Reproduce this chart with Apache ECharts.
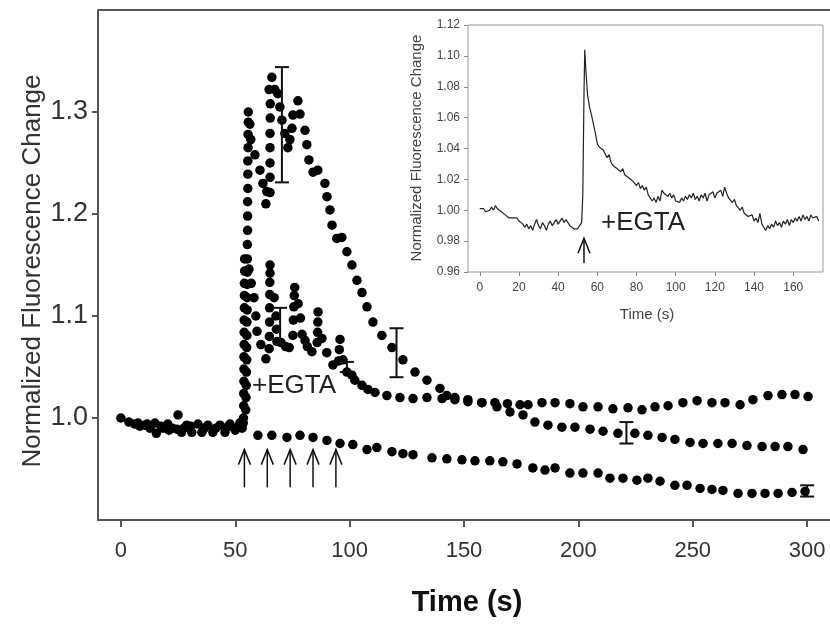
<!DOCTYPE html>
<html>
<head>
<meta charset="utf-8">
<script src="https://cdn.jsdelivr.net/npm/echarts@6/dist/echarts.min.js"></script>
<style>
html,body{margin:0;padding:0;background:#fff;}
#chart{width:830px;height:629px;}
</style>
</head>
<body>
<div id="chart"></div>
<script>
// ---------- Main chart data ----------
const xTicks = [0, 50, 100, 150, 200, 250, 300];
const yTicks = [1.0, 1.1, 1.2, 1.3];

// Trace A (large transient peaking ~1.33)
const seriesA_t = [0,6.1,10.5,14.9,20.5,25.0,28.8,33.7,38.0,43.3,47.7,52.0,
  54.6,54.7,54.8,54.9,55.0,55.0,55.1,55.1,55.2,55.2,55.2,55.3,55.3,55.3,55.4,55.4,55.4,55.5,55.5,55.5,55.6,55.6,55.7,55.7,
  56.4,56.8,58.6,60.8,62.1,63.8,63.4,
  65.2,65.2,65.2,65.2,65.2,65.3,65.3,64.8,66.0,
  67.3,68.6,69.5,70.4,71.7,73.0,73.9,74.8,75.2,77.4,78.3,80.5,81.3,82.2,84.0,86.1,89.2,90.1,91.4,92.3,94.4,96.6,98.8,101.0,103.2,105.4,107.6,110.2,114.1,118.5,123.3,128.6,133.8,139.5,142.5,
  146.0,151.7,157.8,164.4,170.1,175.8,181.0,186.7,192.8,198.5,205.1,210.8,217.3,224.7,230.4,236.6,242.2,248.8,254.5,261.0,267.2,273.7,280.3,286.0,291.6,298.2];
const seriesA_v = [1.000,0.994,0.993,0.995,0.994,1.003,0.993,0.994,0.993,0.993,0.994,0.995,
  1.008,1.020,1.032,1.045,1.057,1.069,1.081,1.094,1.106,1.118,1.131,1.143,1.156,1.170,1.184,1.198,1.212,1.225,1.239,1.252,1.265,1.278,1.290,1.300,
  1.288,1.273,1.258,1.243,1.230,1.222,1.210,
  1.221,1.236,1.250,1.265,1.279,1.294,1.308,1.322,1.334,
  1.322,1.318,1.305,1.292,1.279,1.265,1.273,1.284,1.297,1.311,1.298,1.282,1.268,1.253,1.241,1.243,1.230,1.217,1.204,1.189,1.176,1.177,1.163,1.150,1.135,1.123,1.109,1.094,1.081,1.069,1.057,1.045,1.037,1.029,1.022,
  1.020,1.016,1.015,1.011,1.006,1.003,0.996,0.993,0.991,0.991,0.989,0.987,0.985,0.985,0.983,0.981,0.979,0.976,0.975,0.975,0.975,0.973,0.972,0.972,0.972,0.969];

// Trace B (repeated smaller transients)
const seriesB_t = [8.3,12.7,15.5,18.4,21.0,24.5,26.5,31.0,35.4,40.2,45.5,50.0,53.0,
  53.6,53.7,53.7,53.8,53.8,53.8,53.9,53.9,53.9,54.0,54.0,54.0,54.1,54.1,
  56.0,57.0,58.2,59.0,59.5,61.2,63.4,
  64.8,64.9,65.0,65.0,65.1,65.1,65.2,65.2,
  67.0,67.8,68.0,68.2,70.0,72.0,73.6,
  75.2,75.4,75.6,75.8,76.0,
  77.5,78.5,79.2,80.5,81.5,83.5,
  85.8,86.0,86.1,86.2,
  87.9,90.0,92.7,
  95.2,95.5,95.8,
  97.1,98.8,101.0,102.3,105.4,108.0,111.1,116.3,122.0,127.7,133.8,140.4,146.0,151.7,157.8,163.5,169.0,174.5,
  178.0,184.1,189.8,196.3,202.0,208.6,215.1,221.7,227.8,233.5,239.2,245.7,251.9,258.4,264.1,270.7,276.3,282.9,289.0,294.7,300.4];
const seriesB_v = [0.992,0.990,0.985,0.990,0.988,0.989,0.986,0.986,0.986,0.986,0.986,0.988,0.990,
  1.000,1.012,1.024,1.036,1.048,1.060,1.072,1.084,1.096,1.108,1.120,1.132,1.144,1.156,
  1.146,1.132,1.118,1.100,1.085,1.072,1.058,
  1.068,1.080,1.094,1.108,1.121,1.133,1.142,1.150,
  1.118,1.100,1.087,1.075,1.074,1.070,1.069,
  1.081,1.096,1.109,1.120,1.128,
  1.112,1.098,1.082,1.076,1.070,1.065,
  1.074,1.084,1.094,1.104,
  1.078,1.064,1.052,
  1.056,1.067,1.077,
  1.057,1.045,1.042,1.037,1.032,1.028,1.025,1.022,1.020,1.019,1.020,1.019,1.018,1.018,1.015,1.015,1.014,1.013,
  1.013,1.015,1.015,1.014,1.011,1.011,1.009,1.010,1.008,1.011,1.012,1.015,1.017,1.015,1.015,1.013,1.018,1.022,1.023,1.023,1.021];

// Trace C (no transient, slow decline)
const seriesC_t = [3.5,7.5,11.5,17.5,22.5,27.5,30.5,36.5,41.5,46.5,50.5,53.5,
  59.9,66.0,72.6,78.3,84.0,90.1,95.8,101.4,107.6,111.9,118.5,123.3,127.7,136.0,142.5,149.1,154.8,161.3,167.0,173.2,180.1,185.4,189.8,196.3,202.0,208.6,213.8,219.5,225.6,230.4,235.7,242.2,247.5,253.2,258.4,263.2,269.8,275.9,281.6,287.3,293.4,299.1];
const seriesC_v = [0.996,0.995,0.994,0.992,0.990,0.990,0.992,0.990,0.990,0.991,0.990,0.995,
  0.983,0.983,0.981,0.983,0.981,0.978,0.975,0.974,0.969,0.971,0.967,0.965,0.964,0.961,0.960,0.959,0.958,0.958,0.957,0.955,0.951,0.949,0.951,0.946,0.946,0.946,0.941,0.941,0.939,0.941,0.938,0.934,0.934,0.931,0.930,0.929,0.926,0.926,0.926,0.926,0.927,0.928];

// Error bars
const errT  = [70.4, 69.6, 98.8, 120.5, 221.0, 300.0];
const errLo = [1.231, 1.073, 1.045, 1.040, 0.975, 0.923];
const errHi = [1.344, 1.108, 1.055, 1.088, 0.996, 0.934];

// EGTA addition arrows (time, base value, tip value)
const arrowT = [54, 64, 74, 84, 94];
const arrowBase = 0.932;
const arrowTip = 0.969;

// ---------- Inset data ----------
const insetXTicks = [0, 20, 40, 60, 80, 100, 120, 140, 160];
const insetYTicks = [0.96, 0.98, 1.00, 1.02, 1.04, 1.06, 1.08, 1.10, 1.12];
const insetT = [0,1,2,3,4,5,6,7,8,9,10,11,12,13,14,15,16,17,18,19,20,21,22,23,24,25,26,27,28,29,30,31,32,33,34,35,36,37,38,39,40,41,42,43,44,45,46,47,48,49,50,51,52,
  52.6,53.2,53.6,54.2,55,56,57,58,59,60,61,62,63,64,65,66,67,68,69,70,71,72,73,74,75,76,77,78,79,80,81,82,83,84,85,86,87,88,89,90,91,92,93,94,95,96,97,98,99,100,
  101,102,103,104,105,106,107,108,109,110,111,112,113,114,115,116,117,118,119,120,121,122,123,124,125,126,127,128,129,130,131,132,133,134,135,136,137,138,139,140,
  141,142,143,144,145,146,147,148,149,150,151,152,153,154,155,156,157,158,159,160,161,162,163,164,165,166,167,168,169,170,171,172,173];
const insetV = [1.001,1.000,1.001,0.999,1.000,1.000,1.002,1.000,1.003,1.001,1.000,0.999,0.998,0.997,0.998,0.995,0.996,0.995,0.994,0.995,0.993,0.993,0.991,0.989,0.991,0.988,0.990,0.987,0.991,0.994,0.990,0.988,0.992,0.990,0.987,0.991,0.993,0.990,0.992,0.994,0.991,0.993,0.995,0.992,0.994,0.993,0.990,0.991,0.988,0.989,0.988,0.990,0.992,
  1.010,1.075,1.104,1.090,1.075,1.067,1.062,1.056,1.050,1.043,1.041,1.040,1.039,1.038,1.034,1.036,1.031,1.029,1.030,1.027,1.028,1.025,1.027,1.023,1.024,1.021,1.022,1.019,1.020,1.016,1.018,1.014,1.016,1.013,1.015,1.010,1.009,1.006,1.008,1.005,1.009,1.006,1.013,1.011,1.012,1.009,1.011,1.008,1.010,1.006,
  1.007,1.005,1.008,1.006,1.009,1.007,1.010,1.008,1.011,1.007,1.009,1.006,1.010,1.008,1.011,1.006,1.010,1.009,1.012,1.008,1.011,1.010,1.013,1.009,1.015,1.011,1.008,1.009,1.005,1.007,1.003,1.004,1.000,1.002,0.998,0.999,0.996,0.995,0.997,0.993,
  0.995,0.992,0.998,0.991,0.989,0.987,0.990,0.988,0.991,0.989,0.993,0.990,0.992,0.989,0.993,0.991,0.994,0.990,0.994,0.992,0.995,0.993,0.996,0.993,0.997,0.994,0.996,0.993,0.997,0.995,0.994,0.996,0.993];
const insetArrowT = 53.2;
const insetArrowBase = 0.9658;
const insetArrowTip = 0.9819;

// ---------- Build chart ----------
const FONT = "'Liberation Sans', Arial, Helvetica, sans-serif";
const zip = (a, b) => a.map((t, i) => [t, b[i]]);
const dotStyle = {color: '#000', opacity: 1};

const chart = echarts.init(document.getElementById('chart'), null, {renderer: 'canvas'});

function errRender(params, api) {
  const x = api.value(0), lo = api.value(1), hi = api.value(2);
  const a = api.coord([x, lo]), b = api.coord([x, hi]);
  const w = 7;
  const st = {stroke: '#111', lineWidth: 2};
  return {type: 'group', children: [
    {type: 'line', shape: {x1: a[0], y1: a[1], x2: b[0], y2: b[1]}, style: st},
    {type: 'line', shape: {x1: a[0] - w, y1: a[1], x2: a[0] + w, y2: a[1]}, style: st},
    {type: 'line', shape: {x1: b[0] - w, y1: b[1], x2: b[0] + w, y2: b[1]}, style: st}
  ]};
}
function arrowRender(params, api) {
  const x = api.value(0), lo = api.value(1), hi = api.value(2);
  const a = api.coord([x, lo]), b = api.coord([x, hi]);
  const hw = 6, hh = 15;
  const st = {stroke: '#111', lineWidth: 1.5, fill: null};
  return {type: 'group', children: [
    {type: 'line', shape: {x1: a[0], y1: a[1], x2: b[0], y2: b[1]}, style: st},
    {type: 'polyline', shape: {points: [[b[0] - hw, b[1] + hh], [b[0], b[1]], [b[0] + hw, b[1] + hh]]}, style: st}
  ]};
}

const axisLineMain = {show: true, onZero: false, lineStyle: {color: '#555', width: 2}};
const scatterBase = {type: 'scatter', xAxisIndex: 0, yAxisIndex: 0, symbol: 'circle', symbolSize: 9.5,
  itemStyle: dotStyle, emphasis: {disabled: true}};

const option = {
  animation: false,
  backgroundColor: '#fff',
  grid: [
    {left: 98, top: 10, right: 0, bottom: 109, show: false},
    {left: 468, top: 25, width: 355, height: 247, show: true, borderColor: '#999', borderWidth: 1, backgroundColor: '#fff', z: 5}
  ],
  xAxis: [
    {gridIndex: 0, type: 'value', min: -10, max: 310, position: 'bottom',
      axisLine: axisLineMain,
      axisTick: {show: true, customValues: xTicks, length: 7, inside: false, lineStyle: {color: '#555', width: 2}},
      axisLabel: {customValues: xTicks, fontSize: 22, margin: 20, color: '#333', fontFamily: FONT},
      splitLine: {show: false}},
    {gridIndex: 0, type: 'value', min: -10, max: 310, position: 'top',
      axisLine: axisLineMain, axisTick: {show: false}, axisLabel: {show: false}, splitLine: {show: false}},
    {gridIndex: 1, type: 'value', min: -6, max: 175.2, position: 'bottom', z: 6,
      axisLine: {show: false, onZero: false},
      axisTick: {show: true, customValues: insetXTicks, length: 4, lineStyle: {color: '#888', width: 1}},
      axisLabel: {customValues: insetXTicks, fontSize: 12, margin: 10, color: '#444', fontFamily: FONT},
      splitLine: {show: false}}
  ],
  yAxis: [
    {gridIndex: 0, type: 'value', min: 0.9, max: 1.4,
      axisLine: axisLineMain,
      axisTick: {show: true, customValues: yTicks, length: 6, lineStyle: {color: '#555', width: 2}},
      axisLabel: {customValues: yTicks, fontSize: 27, margin: 10, color: '#333', fontFamily: FONT,
        formatter: v => Number(v).toFixed(1)},
      splitLine: {show: false}},
    {gridIndex: 1, type: 'value', min: 0.96, max: 1.12, z: 6,
      axisLine: {show: false, onZero: false},
      axisTick: {show: true, customValues: insetYTicks, length: 4, lineStyle: {color: '#888', width: 1}},
      axisLabel: {customValues: insetYTicks, fontSize: 12, margin: 8, color: '#444', fontFamily: FONT,
        formatter: v => Number(v).toFixed(2)},
      splitLine: {show: false}}
  ],
  series: [
    Object.assign({name: 'A', data: zip(seriesA_t, seriesA_v)}, scatterBase),
    Object.assign({name: 'B', data: zip(seriesB_t, seriesB_v)}, scatterBase),
    Object.assign({name: 'C', data: zip(seriesC_t, seriesC_v)}, scatterBase),
    {name: 'err', type: 'custom', xAxisIndex: 0, yAxisIndex: 0, renderItem: errRender,
      encode: {x: 0, y: [1, 2]}, data: errT.map((t, i) => [t, errLo[i], errHi[i]]), z: 4},
    {name: 'arrows', type: 'custom', xAxisIndex: 0, yAxisIndex: 0, renderItem: arrowRender,
      encode: {x: 0, y: [1, 2]}, data: arrowT.map(t => [t, arrowBase, arrowTip])},
    {name: 'inset', type: 'line', xAxisIndex: 2, yAxisIndex: 1, showSymbol: false, symbol: 'none',
      lineStyle: {color: '#222', width: 1.2}, data: zip(insetT, insetV), z: 7},
    {name: 'insetArrow', type: 'custom', xAxisIndex: 2, yAxisIndex: 1, renderItem: arrowRender, z: 7,
      encode: {x: 0, y: [1, 2]}, data: [[insetArrowT, insetArrowBase, insetArrowTip]]}
  ],
  graphic: [
    {type: 'text', x: 33, y: 271, rotation: Math.PI / 2, z: 10,
      style: {text: 'Normalized Fluorescence Change', fontSize: 26, fontFamily: FONT, fill: '#333',
        align: 'center', verticalAlign: 'middle'}},
    {type: 'text', x: 467, y: 603, z: 10,
      style: {text: 'Time (s)', fontSize: 29, fontWeight: 'bold', fontFamily: FONT, fill: '#111',
        align: 'center', verticalAlign: 'middle'}},
    {type: 'text', x: 252, y: 386, z: 10,
      style: {text: '+EGTA', fontSize: 26, fontFamily: FONT, fill: '#222', align: 'left', verticalAlign: 'middle'}},
    {type: 'text', x: 417, y: 148, rotation: Math.PI / 2, z: 10,
      style: {text: 'Normalized Fluorescence Change', fontSize: 15, fontFamily: FONT, fill: '#444',
        align: 'center', verticalAlign: 'middle'}},
    {type: 'text', x: 647, y: 315, z: 10,
      style: {text: 'Time (s)', fontSize: 15, fontFamily: FONT, fill: '#444', align: 'center', verticalAlign: 'middle'}},
    {type: 'text', x: 601, y: 223, z: 10,
      style: {text: '+EGTA', fontSize: 26, fontFamily: FONT, fill: '#222', align: 'left', verticalAlign: 'middle'}}
  ]
};
chart.setOption(option);
</script>
</body>
</html>
